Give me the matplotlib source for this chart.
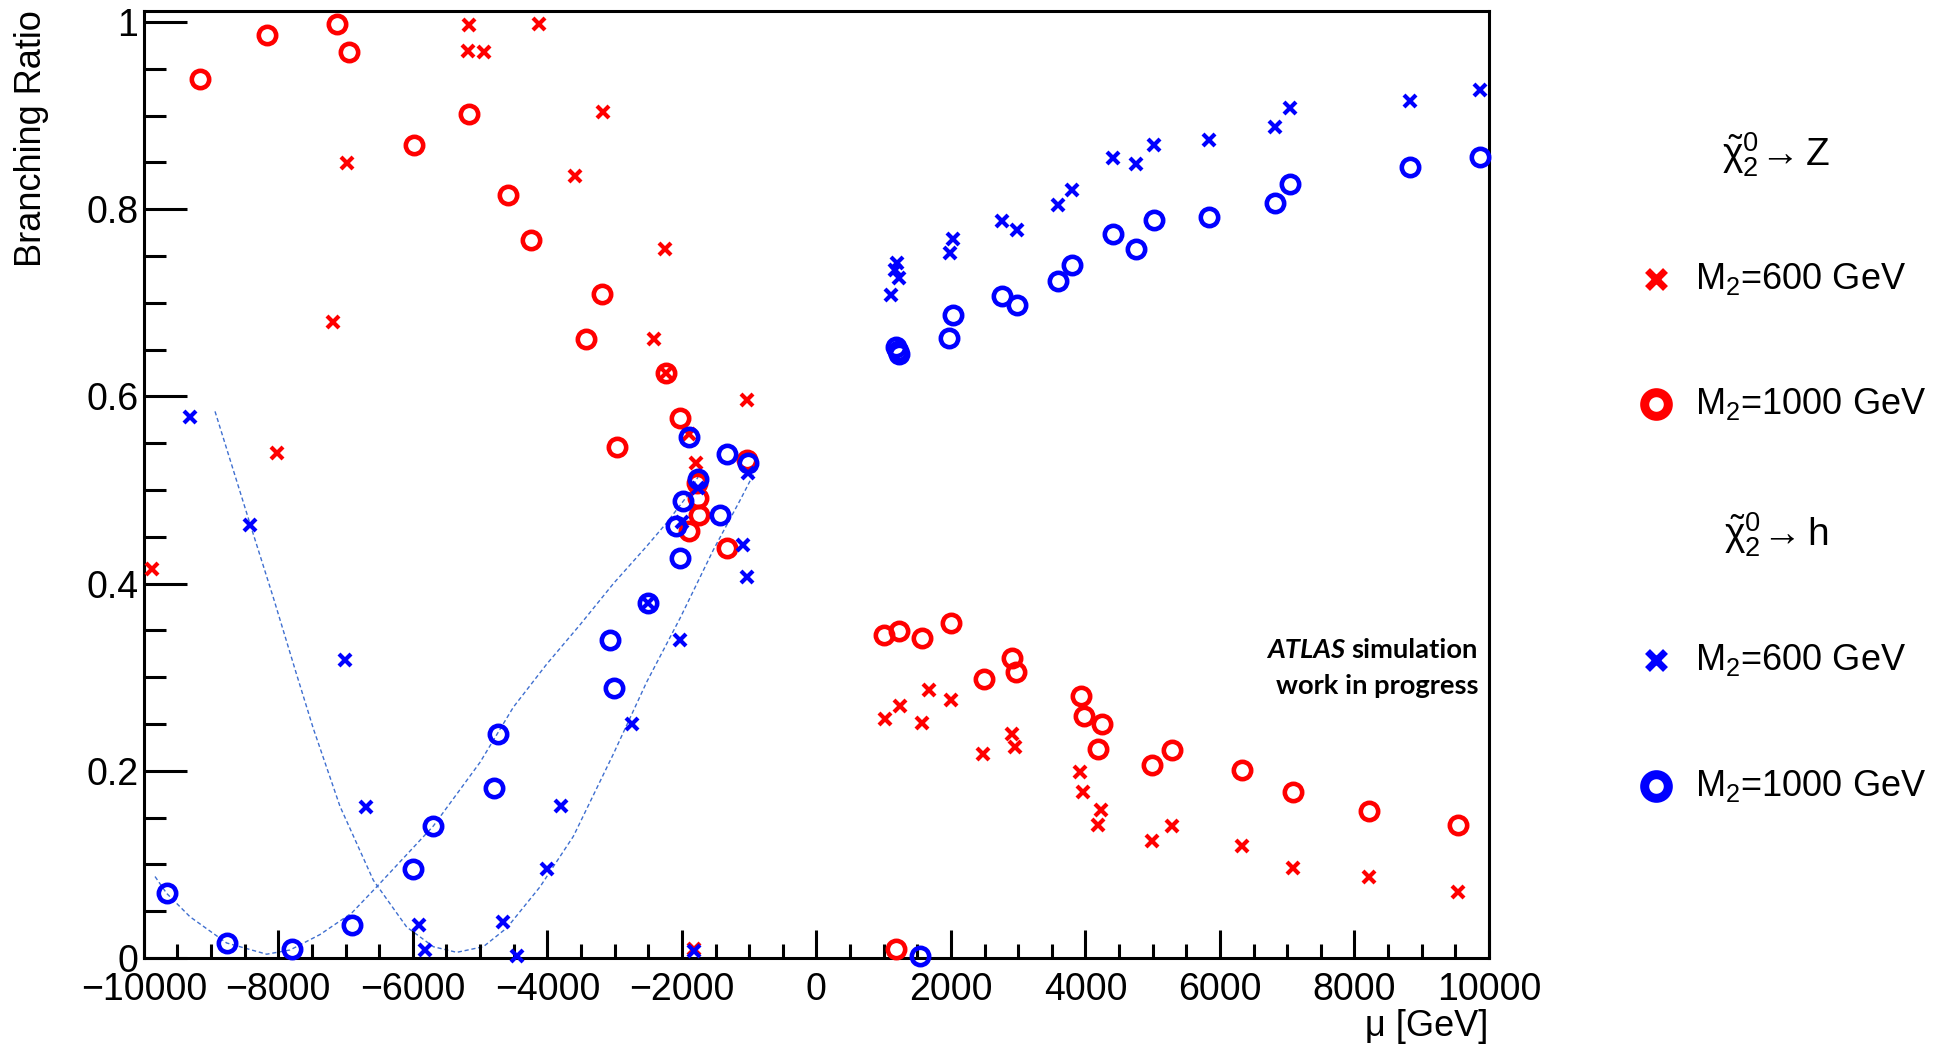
import matplotlib
matplotlib.use("Agg")
import matplotlib.pyplot as plt
from matplotlib.ticker import MultipleLocator, FuncFormatter

plt.rcParams['font.family'] = ['Liberation Sans', 'DejaVu Sans']
plt.rcParams['mathtext.fontset'] = 'custom'
plt.rcParams['mathtext.rm'] = 'Liberation Sans'
plt.rcParams['mathtext.it'] = 'Liberation Sans:italic'
plt.rcParams['mathtext.bf'] = 'Liberation Sans:bold'

# ---------------- data ----------------
# chi2 -> Z, M2 = 600 GeV (red crosses)
z600_mu = [-9883, -8020, -7182, -6983, -5164, -5178, -4944, -4128, -3166, -3584,
           -2244, -2409, -1029, -1789, -1900, -1825, -2239,
           1013, 1239, 1576, 1676, 1994, 2479, 2904, 2960, 3922, 3959, 4237, 4181,
           4995, 5291, 6327, 7093, 8222, 9536]
z600_br = [0.416, 0.540, 0.679, 0.849, 0.997, 0.969, 0.968, 0.998, 0.904, 0.835,
           0.757, 0.661, 0.596, 0.529, 0.560, 0.010, 0.625,
           0.255, 0.269, 0.251, 0.286, 0.276, 0.218, 0.239, 0.225, 0.199, 0.177, 0.158, 0.142,
           0.125, 0.141, 0.120, 0.096, 0.086, 0.071]

# chi2 -> Z, M2 = 1000 GeV (red circles)
z1000_mu = [-9168, -8165, -7123, -6943, -5981, -5164, -4586, -4248, -3187, -3419,
            -2966, -2237, -2027, -1323, -1026, -1779, -1755, -1740, -1888, 1185,
            1005, 1231, 1563, 1994, 2492, 2904, 2971, 3933, 3973, 4251, 4181,
            4995, 5291, 6327, 7080, 8222, 9536]
z1000_br = [0.939, 0.986, 0.998, 0.968, 0.869, 0.902, 0.815, 0.767, 0.709, 0.661,
            0.546, 0.625, 0.577, 0.438, 0.532, 0.507, 0.491, 0.473, 0.456, 0.010,
            0.345, 0.349, 0.342, 0.358, 0.298, 0.320, 0.305, 0.280, 0.258, 0.250, 0.223,
            0.206, 0.222, 0.201, 0.177, 0.157, 0.142]

# chi2 -> h, M2 = 600 GeV (blue crosses)
h600_mu = [-9313, -8421, -7008, -6696, -5903, -5818, -4663, -4455, -4000, -3801,
           -2738, -2027, -1086, -1026, -1011, -1814, -2498, -1755, -2002,
           1103, 1197, 1166, 1228, 1979, 2030, 2762, 2982, 3588, 3807, 4408, 4752,
           5014, 5835, 6824, 7048, 8827, 9865]
h600_br = [0.578, 0.463, 0.318, 0.161, 0.035, 0.009, 0.038, 0.002, 0.095, 0.162,
           0.250, 0.340, 0.441, 0.407, 0.518, 0.007, 0.379, 0.502, 0.466,
           0.708, 0.742, 0.735, 0.726, 0.753, 0.768, 0.787, 0.778, 0.804, 0.820, 0.855, 0.848,
           0.869, 0.874, 0.888, 0.908, 0.916, 0.927]

# chi2 -> h, M2 = 1000 GeV (blue circles)
h1000_mu = [-9660, -8768, -7801, -6909, -5993, -5705, -4788, -4738, -3071, -3016,
            -2498, -2027, -2086, -1987, -1764, -1888, -1432, -1323, -1011, 1536,
            1185, 1206, 1228, 1973, 2030, 2762, 2982, 3588, 3807, 4408, 4752,
            5014, 5835, 6824, 7048, 8827, 9865]
h1000_br = [0.069, 0.016, 0.010, 0.035, 0.095, 0.141, 0.182, 0.239, 0.340, 0.288,
            0.379, 0.427, 0.462, 0.488, 0.512, 0.557, 0.473, 0.538, 0.529, 0.002,
            0.653, 0.649, 0.645, 0.662, 0.687, 0.707, 0.698, 0.723, 0.740, 0.774, 0.757,
            0.788, 0.792, 0.807, 0.827, 0.845, 0.856]

# dashed fit curves
fit1000_mu = [-9833, -9660, -9313, -8768, -8173, -7826, -7380, -6909, -6537, -5695,
              -5001, -4505, -4009, -3514, -3018, -2522, -2225, -1927, -1704]
fit1000_br = [0.087, 0.069, 0.044, 0.016, 0.004, 0.0085, 0.025, 0.048, 0.076, 0.141,
              0.209, 0.268, 0.314, 0.356, 0.400, 0.440, 0.465, 0.493, 0.521]
fit600_mu = [-8941, -8421, -8074, -7737, -7479, -7083, -6587, -6091, -5695, -5347,
             -4952, -4604, -4109, -3613, -3018, -2522, -2027, -1532, -1135, -862]
fit600_br = [0.584, 0.464, 0.385, 0.305, 0.245, 0.162, 0.083, 0.033, 0.012, 0.006,
             0.012, 0.032, 0.076, 0.130, 0.218, 0.295, 0.363, 0.436, 0.489, 0.527]

xticks_major = 2000
yticks_major = 0.2

RED = '#ff0000'
BLUE = '#0000ff'

# ---------------- figure ----------------
fig = plt.figure(figsize=(19.51, 10.45), dpi=100)
ax = fig.add_axes([0.0737, 0.0833, 0.7632 - 0.0737, 0.9895 - 0.0833])

ax.plot(fit1000_mu, fit1000_br, ls=(0, (3, 2)), color='#3f6fd0', lw=1.0, zorder=1)
ax.plot(fit600_mu, fit600_br, ls=(0, (3, 2)), color='#3f6fd0', lw=1.0, zorder=1)

ms_x, mew_x = 8.5, 3.0
ms_o, mew_o = 12.5, 3.3
ax.plot(z600_mu, z600_br, ls='none', marker='x', ms=ms_x, mew=mew_x, color=RED, clip_on=False, zorder=3)
ax.plot(z1000_mu, z1000_br, ls='none', marker='o', ms=ms_o, mew=mew_o, mfc='none', mec=RED, clip_on=False, zorder=3)
ax.plot(h600_mu, h600_br, ls='none', marker='x', ms=ms_x, mew=mew_x, color=BLUE, clip_on=False, zorder=4)
ax.plot(h1000_mu, h1000_br, ls='none', marker='o', ms=ms_o, mew=mew_o, mfc='none', mec=BLUE, clip_on=False, zorder=4)

ax.set_xlim(-10000, 10000)
ax.set_ylim(0, 1.0118)
ax.xaxis.set_major_locator(MultipleLocator(xticks_major))
ax.xaxis.set_minor_locator(MultipleLocator(500))
ax.yaxis.set_major_locator(MultipleLocator(yticks_major))
ax.yaxis.set_minor_locator(MultipleLocator(0.05))
fmt = FuncFormatter(lambda v, p: (f'{v:g}' if abs(v) > 1e-9 else '0').replace('-', '\u2212'))
ax.xaxis.set_major_formatter(fmt)
ax.yaxis.set_major_formatter(fmt)

for s in ax.spines.values():
    s.set_linewidth(2.2)
ax.tick_params(which='both', direction='in', width=2.2, top=False, right=False, labelsize=27)
ax.tick_params(axis='y', which='major', length=31, pad=4)
ax.tick_params(axis='y', which='minor', length=16)
ax.tick_params(axis='x', which='major', length=20, pad=10)
ax.tick_params(axis='x', which='minor', length=10)

fig.text(0.0159, 0.9904, 'Branching Ratio', rotation=90, ha='center', va='top', fontsize=26)
fig.text(0.7627, 0.018, '\u03bc [GeV]', ha='right', va='center', fontsize=26)

# ATLAS label
t1 = fig.text(0.7576, 0.378, 'simulation', ha='right', va='center',
              fontsize=19.7, fontweight='bold', family='Lato')
ax.annotate('ATLAS ', xy=(0, 0), xycoords=t1, ha='right', va='bottom',
            fontsize=19.7, fontweight='bold', style='italic', family='Lato')
fig.text(0.7576, 0.3435, 'work in progress', ha='right', va='center',
         fontsize=19.7, fontweight='bold', family='Lato')

# legend (drawn manually outside the axes)
lg = fig.add_axes([0, 0, 1, 1], facecolor='none')
lg.set_axis_off()
lg.set_xlim(0, 1)
lg.set_ylim(0, 1)
mx, tx = 0.8488, 0.8688
lg.text(0.9105, 0.8517, r'$\tilde{\mathrm{\chi}}_{2}^{0}\!\rightarrow$Z', ha='center', va='center', fontsize=28)
lg.plot([mx], [0.733], marker='x', ms=13, mew=5, color=RED, ls='none')
lg.text(tx, 0.733, r'M$_{2}$=600 GeV', ha='left', va='center', fontsize=26)
lg.plot([mx], [0.6134], marker='o', ms=17, mew=6.5, mfc='none', mec=RED, ls='none')
lg.text(tx, 0.6134, r'M$_{2}$=1000 GeV', ha='left', va='center', fontsize=26)
lg.text(0.9105, 0.488, r'$\tilde{\mathrm{\chi}}_{2}^{0}\!\rightarrow$h', ha='center', va='center', fontsize=28)
lg.plot([mx], [0.3684], marker='x', ms=13, mew=5, color=BLUE, ls='none')
lg.text(tx, 0.3684, r'M$_{2}$=600 GeV', ha='left', va='center', fontsize=26)
lg.plot([mx], [0.2478], marker='o', ms=17, mew=6.5, mfc='none', mec=BLUE, ls='none')
lg.text(tx, 0.2478, r'M$_{2}$=1000 GeV', ha='left', va='center', fontsize=26)

fig.savefig('out.png', dpi=100)
